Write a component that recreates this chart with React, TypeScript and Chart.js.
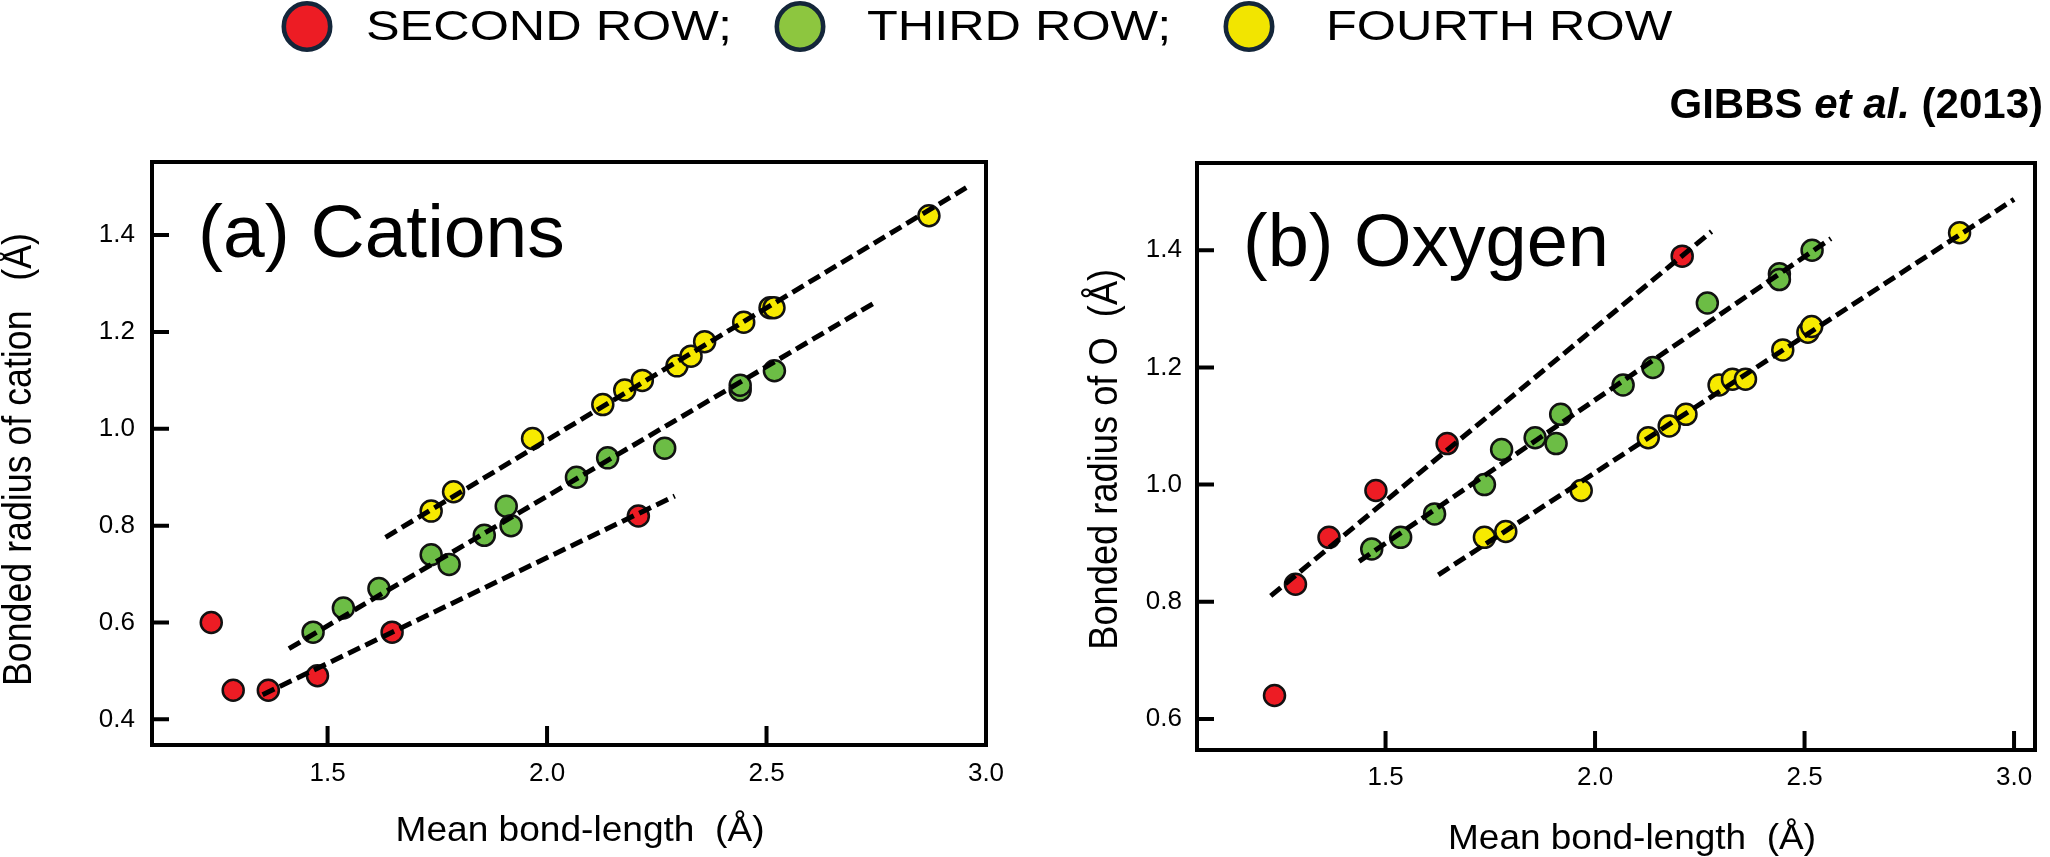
import React, { useEffect, useRef } from "react";
import { Chart, registerables } from "chart.js";

Chart.register(...registerables);

const FONT = "'Liberation Sans', Arial, Helvetica, sans-serif";

// Mean bond length (Å) of each coordination environment, by period
const secondRowBondLength = [1.235, 1.285, 1.365, 1.477, 1.647, 2.208];
const thirdRowBondLength = [1.467, 1.536, 1.617, 1.736, 1.777, 1.857, 1.907, 1.918, 2.067, 2.138, 2.268, 2.44, 2.44, 2.518];
const fourthRowBondLength = [1.736, 1.787, 1.967, 2.127, 2.177, 2.217, 2.296, 2.328, 2.359, 2.448, 2.508, 2.517, 2.87];

// Bonded radius of the cation (Å)
const secondRowCation = [0.6, 0.46, 0.46, 0.49, 0.58, 0.82];
const thirdRowCation = [0.58, 0.63, 0.67, 0.74, 0.72, 0.78, 0.84, 0.8, 0.9, 0.94, 0.96, 1.08, 1.09, 1.12];
const fourthRowCation = [0.83, 0.87, 0.98, 1.05, 1.08, 1.1, 1.13, 1.15, 1.18, 1.22, 1.25, 1.25, 1.44];

// Bonded radius of the oxygen atom (Å)
const secondRowOxygen = [0.64, 0.83, 0.91, 0.99, 1.07, 1.39];
const thirdRowOxygen = [0.89, 0.91, 0.95, 1.0, 1.06, 1.08, 1.07, 1.12, 1.17, 1.2, 1.31, 1.36, 1.35, 1.4];
const fourthRowOxygen = [0.91, 0.92, 0.99, 1.08, 1.1, 1.12, 1.17, 1.18, 1.18, 1.23, 1.26, 1.27, 1.43];

// Regression lines: [start bond length, start radius], [end bond length, end radius]
const cationFitSecond: number[][] = [[1.352, 0.451], [2.291, 0.861]];
const cationFitThird: number[][] = [[1.412, 0.546], [2.753, 1.264]];
const cationFitFourth: number[][] = [[1.632, 0.776], [2.955, 1.498]];
const oxygenFitSecond: number[][] = [[1.226, 0.81], [2.278, 1.432]];
const oxygenFitThird: number[][] = [[1.437, 0.869], [2.563, 1.42]];
const oxygenFitFourth: number[][] = [[1.626, 0.846], [3.0, 1.487]];

// Axis tick values
const bondLengthTicks = [1.5, 2.0, 2.5, 3.0];
const cationRadiusTicks = [0.4, 0.6, 0.8, 1.0, 1.2, 1.4];
const oxygenRadiusTicks = [0.6, 0.8, 1.0, 1.2, 1.4];

const rowLabels = ["SECOND ROW;", "THIRD ROW;", "FOURTH ROW"];

const RED = "#ED1C24";
const GREEN = "#6CBD45";
const YELLOW = "#F7EA00";
const LEGEND_COLORS = ["#ED1C24", "#8DC63F", "#F2E500"];

type Panel = {
  title: string;
  titleX: number;
  titleBaseline: number;
  titleSize: number;
  yTitle: string;
  yTitleBaseX: number;
  yTitleCenterY: number;
  yTitleLength: number;
  xTitleCenterX: number;
  xTitleBaseline: number;
  xTitleLength: number;
  xMin: number;
  xMax: number;
  yMin: number;
  yMax: number;
  xTicks: number[];
  yTicks: number[];
  left: number;
  top: number;
  right: number;
  bottom: number;
  yTickPad: number;
  xTickPad: number;
  width: number;
  height: number;
  red: number[];
  green: number[];
  yellow: number[];
  fits: number[][][];
};

function toPoints(xs: number[], ys: number[]) {
  return xs.map((x, i) => ({ x, y: ys[i] }));
}

function drawScaledText(
  ctx: CanvasRenderingContext2D,
  text: string,
  x: number,
  y: number,
  font: string,
  align: CanvasTextAlign,
  targetWidth?: number,
  rotate = 0
) {
  ctx.save();
  ctx.font = font;
  const w = ctx.measureText(text).width;
  const sx = targetWidth ? targetWidth / w : 1;
  ctx.translate(x, y);
  if (rotate) ctx.rotate(rotate);
  ctx.scale(sx, 1);
  ctx.textAlign = align;
  ctx.textBaseline = "alphabetic";
  ctx.fillStyle = "#000";
  ctx.fillText(text, 0, 0);
  ctx.restore();
}

function framePlugin(p: Panel) {
  return {
    id: "frameAndTitles",
    afterDraw(chart: any) {
      const { ctx, chartArea: a, scales } = chart;
      ctx.save();
      ctx.strokeStyle = "#000";
      ctx.lineWidth = 4;
      ctx.lineCap = "butt";
      ctx.strokeRect(a.left, a.top, a.right - a.left, a.bottom - a.top);
      ctx.beginPath();
      scales.x.ticks.forEach((t: any) => {
        const px = scales.x.getPixelForValue(t.value);
        ctx.moveTo(px, a.bottom);
        ctx.lineTo(px, a.bottom - 19);
      });
      scales.y.ticks.forEach((t: any) => {
        const py = scales.y.getPixelForValue(t.value);
        ctx.moveTo(a.left, py);
        ctx.lineTo(a.left + 17, py);
      });
      ctx.stroke();
      ctx.restore();

      drawScaledText(ctx, p.title, p.titleX, p.titleBaseline, `${p.titleSize}px ${FONT}`, "left");
      drawScaledText(
        ctx,
        "Mean bond-length  (Å)",
        p.xTitleCenterX,
        p.xTitleBaseline,
        `35px ${FONT}`,
        "center",
        p.xTitleLength
      );
      drawScaledText(
        ctx,
        p.yTitle,
        p.yTitleBaseX,
        p.yTitleCenterY,
        `40px ${FONT}`,
        "center",
        p.yTitleLength,
        -Math.PI / 2
      );
    },
  };
}

function lineSet(fit: number[][]) {
  return {
    type: "line" as const,
    data: fit.map(([x, y]) => ({ x, y })),
    showLine: true,
    borderColor: "#000",
    borderWidth: 5,
    borderDash: [13, 6],
    pointRadius: 0,
    fill: false,
    order: 0,
  };
}

function pointSet(xs: number[], ys: number[], color: string) {
  return {
    type: "scatter" as const,
    data: toPoints(xs, ys),
    backgroundColor: color,
    borderColor: "#111",
    borderWidth: 2.5,
    pointRadius: 10.5,
    showLine: false,
    order: 1,
  };
}

function PanelChart({ p, offsetX }: { p: Panel; offsetX: number }) {
  const ref = useRef<HTMLCanvasElement | null>(null);
  useEffect(() => {
    if (!ref.current) return;
    const chart = new Chart(ref.current, {
      type: "scatter",
      data: {
        datasets: [
          ...p.fits.map(lineSet),
          pointSet(secondRowBondLength, p.red, RED),
          pointSet(thirdRowBondLength, p.green, GREEN),
          pointSet(fourthRowBondLength, p.yellow, YELLOW),
        ] as any,
      },
      options: {
        responsive: false,
        animation: false,
        devicePixelRatio: 1,
        events: [],
        layout: {
          padding: { left: 0, top: p.top, right: p.width - p.right, bottom: 0 },
        },
        plugins: { legend: { display: false }, tooltip: { enabled: false }, title: { display: false } },
        scales: {
          x: {
            type: "linear",
            position: "bottom",
            min: p.xMin,
            max: p.xMax,
            bounds: "data",
            grid: { display: false, drawTicks: false },
            border: { display: false },
            ticks: {
              padding: p.xTickPad,
              color: "#000",
              font: { family: FONT, size: 26 },
              maxRotation: 0,
              autoSkip: false,
              callback: (v: any) => Number(v).toFixed(1),
            },
            afterBuildTicks: (s: any) => {
              s.ticks = p.xTicks.map((value) => ({ value }));
            },
            afterFit: (s: any) => {
              s.height = p.height - p.bottom;
            },
          },
          y: {
            type: "linear",
            position: "left",
            min: p.yMin,
            max: p.yMax,
            bounds: "data",
            grid: { display: false, drawTicks: false },
            border: { display: false },
            ticks: {
              padding: p.yTickPad,
              color: "#000",
              font: { family: FONT, size: 26 },
              autoSkip: false,
              callback: (v: any) => Number(v).toFixed(1),
            },
            afterBuildTicks: (s: any) => {
              s.ticks = p.yTicks.map((value) => ({ value }));
            },
            afterFit: (s: any) => {
              s.width = p.left;
            },
          },
        },
      } as any,
      plugins: [framePlugin(p)],
    });
    return () => chart.destroy();
  }, [p]);
  return (
    <canvas
      ref={ref}
      width={p.width}
      height={p.height}
      style={{ position: "absolute", left: offsetX, top: 0, width: p.width, height: p.height }}
    />
  );
}

function Header() {
  const ref = useRef<HTMLCanvasElement | null>(null);
  useEffect(() => {
    const c = ref.current;
    if (!c) return;
    const ctx = c.getContext("2d");
    if (!ctx) return;
    ctx.clearRect(0, 0, c.width, c.height);
    const circleX = [307, 800, 1249];
    const textX = [366, 867, 1326];
    rowLabels.forEach((label, i) => {
      ctx.beginPath();
      ctx.arc(circleX[i], 26.5, 23.2, 0, Math.PI * 2);
      ctx.fillStyle = LEGEND_COLORS[i];
      ctx.fill();
      ctx.lineWidth = 4.6;
      ctx.strokeStyle = "#14263A";
      ctx.stroke();
      ctx.save();
      ctx.font = `42px ${FONT}`;
      ctx.translate(textX[i], 39.5);
      ctx.scale(1.2, 1);
      ctx.fillStyle = "#000";
      ctx.textAlign = "left";
      ctx.fillText(label, 0, 0);
      ctx.restore();
    });
    // citation, right aligned
    const parts = [
      { t: "GIBBS ", f: `bold 42px ${FONT}` },
      { t: "et al.", f: `italic bold 42px ${FONT}` },
      { t: " (2013)", f: `bold 42px ${FONT}` },
    ];
    let total = 0;
    parts.forEach((pt) => {
      ctx.font = pt.f;
      total += ctx.measureText(pt.t).width;
    });
    let x = 2043 - total;
    ctx.fillStyle = "#000";
    ctx.textAlign = "left";
    parts.forEach((pt) => {
      ctx.font = pt.f;
      ctx.fillText(pt.t, x, 118);
      x += ctx.measureText(pt.t).width;
    });
  }, []);
  return (
    <canvas
      ref={ref}
      width={2050}
      height={160}
      style={{ position: "absolute", left: 0, top: 0, width: 2050, height: 160 }}
    />
  );
}

const cationPanel: Panel = {
  title: "(a) Cations",
  titleX: 198,
  titleBaseline: 257,
  titleSize: 75,
  yTitle: "Bonded radius of cation   (Å)",
  yTitleBaseX: 31,
  yTitleCenterY: 459.5,
  yTitleLength: 453,
  xTitleCenterX: 580,
  xTitleBaseline: 841,
  xTitleLength: 369,
  xMin: 1.1,
  xMax: 3.0,
  yMin: 0.347,
  yMax: 1.551,
  xTicks: bondLengthTicks,
  yTicks: cationRadiusTicks,
  left: 152,
  top: 162,
  right: 986,
  bottom: 745,
  yTickPad: 17,
  xTickPad: 13,
  width: 1060,
  height: 857,
  red: secondRowCation,
  green: thirdRowCation,
  yellow: fourthRowCation,
  fits: [cationFitSecond, cationFitThird, cationFitFourth],
};

const oxygenPanel: Panel = {
  title: "(b) Oxygen",
  titleX: 183,
  titleBaseline: 266,
  titleSize: 74,
  yTitle: "Bonded radius of O  (Å)",
  yTitleBaseX: 57,
  yTitleCenterY: 459.3,
  yTitleLength: 381,
  xTitleCenterX: 572,
  xTitleBaseline: 849,
  xTitleLength: 368,
  xMin: 1.05,
  xMax: 3.05,
  yMin: 0.547,
  yMax: 1.549,
  xTicks: bondLengthTicks,
  yTicks: oxygenRadiusTicks,
  left: 137,
  top: 163,
  right: 975,
  bottom: 750,
  yTickPad: 15,
  xTickPad: 12,
  width: 990,
  height: 857,
  red: secondRowOxygen,
  green: thirdRowOxygen,
  yellow: fourthRowOxygen,
  fits: [oxygenFitSecond, oxygenFitThird, oxygenFitFourth],
};

export default function App() {
  return (
    <div
      style={{
        position: "absolute",
        left: 0,
        top: 0,
        width: 2050,
        height: 857,
        background: "#fff",
        overflow: "hidden",
      }}
    >
      <Header />
      <PanelChart p={cationPanel} offsetX={0} />
      <PanelChart p={oxygenPanel} offsetX={1060} />
    </div>
  );
}
